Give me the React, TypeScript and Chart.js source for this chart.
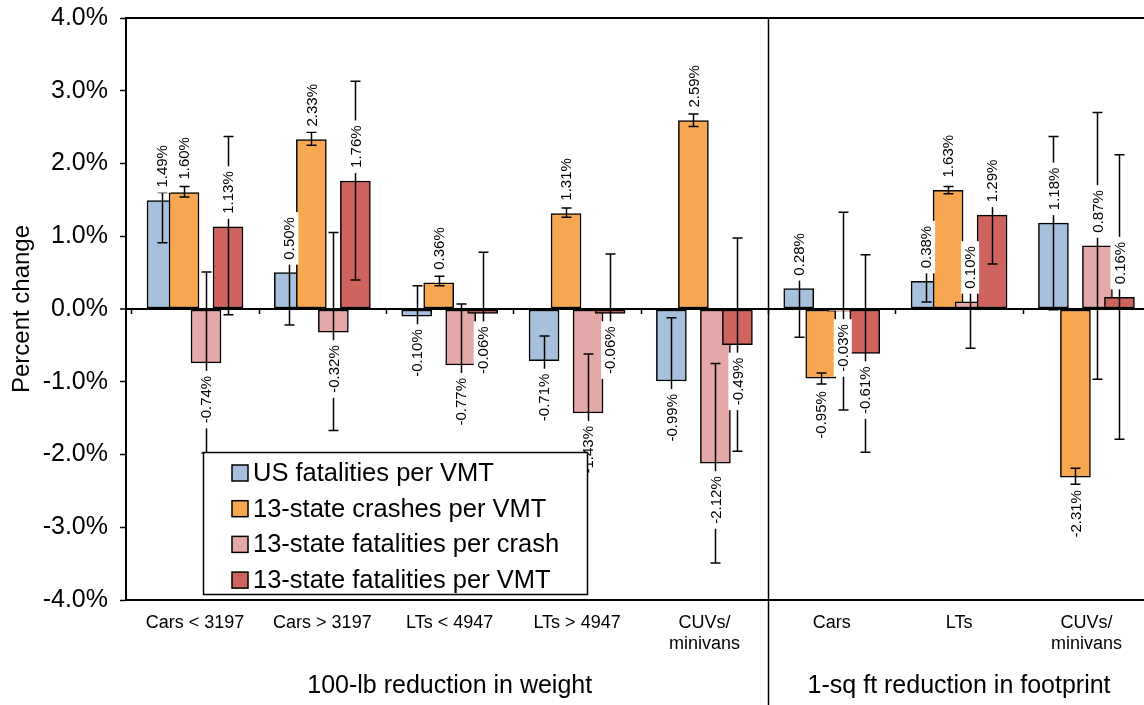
import { useEffect, useRef } from 'react';
import { Chart, registerables } from 'chart.js';

Chart.register(...registerables);

// ---- data ----
const categories: string[][] = [
  ['Cars < 3197'],
  ['Cars > 3197'],
  ['LTs < 4947'],
  ['LTs > 4947'],
  ['CUVs/', 'minivans'],
  ['Cars'],
  ['LTs'],
  ['CUVs/', 'minivans'],
];
const groupTitles = ['100-lb reduction in weight', '1-sq ft reduction in footprint'];
const groupSpans = [[0, 4], [5, 7]];
const seriesNames = [
  'US fatalities per VMT',
  '13-state crashes per VMT',
  '13-state fatalities per crash',
  '13-state fatalities per VMT',
];

// percent change per category
const usFatalitiesPerVmt = [1.49, 0.5, -0.1, -0.71, -0.99, 0.28, 0.38, 1.18];
const crashesPerVmt = [1.6, 2.33, 0.36, 1.31, 2.59, -0.95, 1.63, -2.31];
const fatalitiesPerCrash = [-0.74, -0.32, -0.77, -1.43, -2.12, -0.03, 0.1, 0.87];
const fatalitiesPerVmt = [1.13, 1.76, -0.06, -0.06, -0.49, -0.61, 1.29, 0.16];

// confidence interval bounds
const usLow = [0.91, -0.22, -0.52, -1.05, -1.86, -0.39, 0.095, -0.01];
const usHigh = [1.6, 1.22, 0.32, -0.37, -0.12, 0.95, 0.665, 2.37];
const crashLow = [1.54, 2.25, 0.32, 1.26, 2.51, -1.03, 1.585, -2.41];
const crashHigh = [1.685, 2.43, 0.45, 1.39, 2.68, -0.88, 1.685, -2.19];
const perCrashLow = [-1.98, -1.67, -1.61, -2.24, -3.49, -1.39, -0.54, -0.965];
const perCrashHigh = [0.51, 1.05, 0.07, -0.62, -0.75, 1.33, 0.74, 2.7];
const perVmtLow = [-0.08, 0.4, -0.9, -0.875, -1.955, -1.97, 0.62, -1.79];
const perVmtHigh = [2.37, 3.13, 0.78, 0.755, 0.975, 0.745, 1.96, 2.12];

const yTicks = [-4, -3, -2, -1, 0, 1, 2, 3, 4];

const seriesValues = [usFatalitiesPerVmt, crashesPerVmt, fatalitiesPerCrash, fatalitiesPerVmt];
const seriesLow = [usLow, crashLow, perCrashLow, perVmtLow];
const seriesHigh = [usHigh, crashHigh, perCrashHigh, perVmtHigh];

// ---- styling ----
const FONT = "'Liberation Sans', Arial, Helvetica, sans-serif";
const colors = ['#A7C0DE', '#F9A852', '#E3A8A7', '#CF645F'];
const X_MIN = -0.542;
const X_MAX = 7.452;
const BAR_STEP = 0.1728; // spacing between overlapping bars of one group, axis units
const BAR_WIDTH = 30;
const LEGEND_BOX = { left: 203, top: 452, right: 587, bottom: 594 };

const errorBars = {
  id: 'errorBars',
  afterDatasetsDraw(chart: any) {
    const { ctx } = chart;
    const y = chart.scales.y;
    ctx.save();
    ctx.strokeStyle = '#000';
    ctx.lineWidth = 1.5;
    chart.data.datasets.forEach((_: any, k: number) => {
      const meta = chart.getDatasetMeta(k);
      meta.data.forEach((el: any, i: number) => {
        const lo = y.getPixelForValue(seriesLow[k][i]);
        const hi = y.getPixelForValue(seriesHigh[k][i]);
        const x = Math.round(el.x) + 0.5;
        ctx.beginPath();
        ctx.moveTo(x, lo);
        ctx.lineTo(x, hi);
        ctx.moveTo(x - 5, lo);
        ctx.lineTo(x + 5, lo);
        ctx.moveTo(x - 5, hi);
        ctx.lineTo(x + 5, hi);
        ctx.stroke();
      });
    });
    ctx.restore();
  },
};

const valueLabels = {
  id: 'valueLabels',
  afterDatasetsDraw(chart: any) {
    const { ctx } = chart;
    ctx.save();
    ctx.font = `15px ${FONT}`;
    ctx.textAlign = 'center';
    ctx.textBaseline = 'middle';
    chart.data.datasets.forEach((_: any, k: number) => {
      const meta = chart.getDatasetMeta(k);
      meta.data.forEach((el: any, i: number) => {
        const v = seriesValues[k][i];
        const text = v.toFixed(2) + '%';
        const w = ctx.measureText(text).width;
        const gap = 13;
        const cy = v >= 0 ? el.y - gap - w / 2 : el.y + gap + w / 2;
        ctx.save();
        ctx.translate(el.x, cy);
        ctx.rotate(-Math.PI / 2);
        ctx.fillStyle = '#fff';
        ctx.fillRect(-w / 2 - 5, -9, w + 10, 18);
        ctx.fillStyle = '#000';
        ctx.fillText(text, 0, 1);
        ctx.restore();
      });
    });
    ctx.restore();
  },
};

const frameAndLegend = {
  id: 'frameAndLegend',
  afterDraw(chart: any) {
    const { ctx, chartArea } = chart;
    const x = chart.scales.x;
    const y = chart.scales.y;
    const y0 = y.getPixelForValue(0);
    ctx.save();
    ctx.strokeStyle = '#000';

    // top border of the plot
    ctx.lineWidth = 2;
    ctx.beginPath();
    ctx.moveTo(chartArea.left, chartArea.top);
    ctx.lineTo(chartArea.right, chartArea.top);
    ctx.stroke();

    // category boundary ticks on the zero line
    ctx.lineWidth = 1.5;
    for (let i = -1; i < categories.length - 1; i++) {
      const px = Math.round(x.getPixelForValue(i + 0.5)) + 0.5;
      ctx.beginPath();
      ctx.moveTo(px, y0);
      ctx.lineTo(px, y0 + 5);
      ctx.stroke();
    }

    // divider between the two groups
    const dx = Math.round(x.getPixelForValue((groupSpans[0][1] + groupSpans[1][0]) / 2)) + 0.5;
    ctx.lineWidth = 1.5;
    ctx.beginPath();
    ctx.moveTo(dx, chartArea.top);
    ctx.lineTo(dx, chart.height);
    ctx.stroke();

    // legend
    const b = LEGEND_BOX;
    ctx.fillStyle = '#fff';
    ctx.fillRect(b.left, b.top, b.right - b.left, b.bottom - b.top);
    ctx.lineWidth = 1.5;
    ctx.strokeRect(b.left + 0.5, b.top + 0.5, b.right - b.left, b.bottom - b.top);
    ctx.font = `25.5px ${FONT}`;
    ctx.textAlign = 'left';
    ctx.textBaseline = 'middle';
    seriesNames.forEach((name, k) => {
      const cy = b.top + 21 + k * 35.7;
      ctx.fillStyle = colors[k];
      ctx.fillRect(b.left + 29, cy - 8, 16, 16);
      ctx.strokeStyle = '#000';
      ctx.lineWidth = 1.5;
      ctx.strokeRect(b.left + 29, cy - 8, 16, 16);
      ctx.fillStyle = '#000';
      ctx.fillText(name, b.left + 50, cy + 1);
    });
    ctx.restore();
  },
};

const noLabelPadding = (s: any, h: number) => {
  s.height = h;
  s.paddingLeft = 0;
  s.paddingRight = 0;
};

export default function App() {
  const ref = useRef<HTMLCanvasElement>(null);

  useEffect(() => {
    if (!ref.current) return;
    const datasets = seriesValues.map((vals, k) => ({
      label: seriesNames[k],
      data: vals.map((v, i) => ({ x: i + (k - 1.5) * BAR_STEP, y: v })),
      backgroundColor: colors[k],
      borderColor: '#000',
      borderWidth: 1.5,
      borderSkipped: false as const,
      barThickness: BAR_WIDTH,
      grouped: false,
      order: seriesValues.length - 1 - k,
    }));

    const chart = new Chart(ref.current, {
      type: 'bar',
      data: { datasets: datasets as any },
      options: {
        animation: false,
        responsive: true,
        maintainAspectRatio: false,
        events: [],
        layout: { padding: { top: 18, left: 0, right: 0, bottom: 0 } },
        plugins: { legend: { display: false }, tooltip: { enabled: false } },
        scales: {
          x: {
            type: 'linear',
            position: 'bottom',
            offset: false,
            bounds: 'data',
            weight: 0,
            min: X_MIN,
            max: X_MAX,
            afterBuildTicks: (s: any) => {
              s.ticks = categories.map((_, i) => ({ value: i }));
            },
            afterFit: (s: any) => noLabelPadding(s, 60),
            ticks: {
              autoSkip: false,
              maxRotation: 0,
              color: '#000',
              padding: 4,
              font: { family: FONT, size: 18, lineHeight: 1.2 },
              callback: (v: any) => categories[Math.round(Number(v))] ?? '',
            },
            grid: { display: false, offset: false },
            border: { display: true, color: '#000', width: 2 },
          },
          x2: {
            type: 'linear',
            position: 'bottom',
            offset: false,
            bounds: 'data',
            weight: 1,
            min: X_MIN,
            max: X_MAX,
            afterBuildTicks: (s: any) => {
              s.ticks = groupSpans.map(([a, c]) => ({ value: (a + c) / 2 }));
            },
            afterFit: (s: any) => noLabelPadding(s, 45),
            ticks: {
              autoSkip: false,
              maxRotation: 0,
              color: '#000',
              padding: 3,
              font: { family: FONT, size: 25 },
              callback: (v: any) => {
                const idx = groupSpans.findIndex(([a, c]) => (a + c) / 2 === Number(v));
                return idx >= 0 ? groupTitles[idx] : '';
              },
            },
            grid: { display: false, offset: false },
            border: { display: false },
          },
          y: {
            type: 'linear',
            min: yTicks[0],
            max: yTicks[yTicks.length - 1],
            afterBuildTicks: (s: any) => {
              s.ticks = yTicks.map((v) => ({ value: v }));
            },
            afterFit: (s: any) => {
              s.width = 126;
              s.paddingTop = 0;
              s.paddingBottom = 0;
            },
            ticks: {
              color: '#000',
              padding: 12,
              font: { family: FONT, size: 25 },
              callback: (v: any) => Number(v).toFixed(1) + '%',
            },
            grid: {
              drawOnChartArea: true,
              color: (c: any) => (c.tick && c.tick.value === 0 ? '#000' : 'rgba(0,0,0,0)'),
              lineWidth: (c: any) => (c.tick && c.tick.value === 0 ? 2 : 1),
              tickColor: '#000',
              tickWidth: 1.5,
              tickLength: 6,
            },
            border: { display: true, color: '#000', width: 2 },
            title: {
              display: true,
              text: 'Percent change',
              color: '#000',
              font: { family: FONT, size: 24 },
              padding: { top: 8, bottom: 0 },
            },
          },
        },
      },
      plugins: [errorBars, valueLabels, frameAndLegend],
    });
    return () => chart.destroy();
  }, []);

  return (
    <div style={{ position: 'fixed', left: 0, top: 0, width: 1144, height: 705, background: '#fff' }}>
      <canvas ref={ref} />
    </div>
  );
}
